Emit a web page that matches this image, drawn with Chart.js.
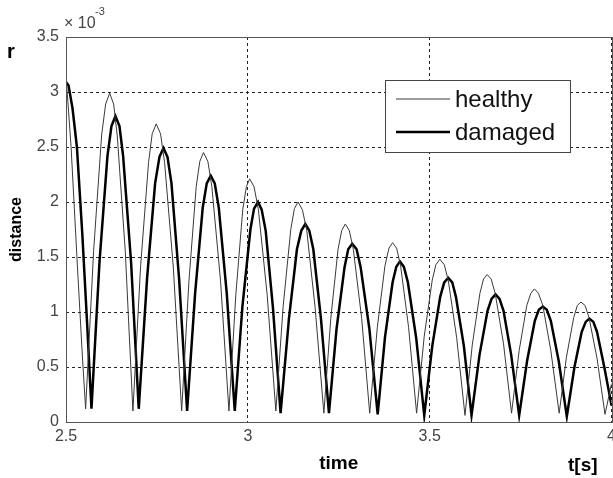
<!DOCTYPE html>
<html>
<head>
<meta charset="utf-8">
<script src="https://cdn.jsdelivr.net/npm/chart.js@4.4.1/dist/chart.umd.min.js"></script>
<style>
  html, body { margin: 0; padding: 0; background: #fff; overflow: hidden; }
  #wrap { width: 621px; height: 478px; position: relative; }
</style>
</head>
<body>
<div id="wrap"><canvas id="chart"></canvas></div>
<script>
// values are in units of 10^-3 (axis multiplier shown top left)
const healthyTime = [2.500, 2.514, 2.530, 2.545, 2.554,
    2.576, 2.598, 2.609, 2.620, 2.631, 2.641, 2.663, 2.684,
    2.705, 2.727, 2.737, 2.748, 2.760, 2.771, 2.795, 2.818,
    2.838, 2.858, 2.868, 2.878, 2.890, 2.901, 2.925, 2.948,
    2.967, 2.986, 2.996, 3.005, 3.017, 3.029, 3.053, 3.077,
    3.097, 3.118, 3.128, 3.138, 3.150, 3.162, 3.185, 3.209,
    3.228, 3.248, 3.258, 3.268, 3.279, 3.290, 3.313, 3.335,
    3.356, 3.377, 3.388, 3.398, 3.409, 3.420, 3.442, 3.464,
    3.485, 3.507, 3.517, 3.528, 3.540, 3.551, 3.574, 3.597,
    3.617, 3.638, 3.648, 3.658, 3.669, 3.680, 3.703, 3.725,
    3.746, 3.767, 3.778, 3.788, 3.799, 3.811, 3.833, 3.856,
    3.876, 3.896, 3.906, 3.916, 3.927, 3.938, 3.960, 3.982,
    4.000];
const healthyValue = [3.15, 2.50, 1.50, 0.60, 0.12,
    1.56, 2.61, 2.89, 2.99, 2.89, 2.60, 1.55, 0.10,
    1.41, 2.36, 2.62, 2.71, 2.62, 2.36, 1.41, 0.10,
    1.28, 2.14, 2.37, 2.45, 2.37, 2.14, 1.28, 0.10,
    1.16, 1.93, 2.14, 2.21, 2.14, 1.93, 1.16, 0.10,
    1.05, 1.75, 1.94, 2.00, 1.93, 1.74, 1.04, 0.08,
    0.94, 1.57, 1.74, 1.80, 1.74, 1.57, 0.94, 0.08,
    0.86, 1.42, 1.58, 1.63, 1.58, 1.42, 0.86, 0.08,
    0.78, 1.29, 1.43, 1.48, 1.43, 1.29, 0.77, 0.06,
    0.70, 1.17, 1.30, 1.34, 1.30, 1.17, 0.71, 0.08,
    0.65, 1.06, 1.17, 1.21, 1.17, 1.06, 0.65, 0.08,
    0.59, 0.95, 1.06, 1.09, 1.06, 0.95, 0.58, 0.07,
    0.35];

const damagedTime = [2.500, 2.507, 2.518, 2.530, 2.545, 2.558, 2.570,
    2.592, 2.614, 2.625, 2.636, 2.647, 2.657, 2.679, 2.700,
    2.723, 2.745, 2.757, 2.768, 2.779, 2.790, 2.811, 2.833,
    2.855, 2.876, 2.887, 2.898, 2.909, 2.920, 2.942, 2.964,
    2.985, 3.007, 3.017, 3.028, 3.038, 3.049, 3.069, 3.090,
    3.113, 3.135, 3.147, 3.158, 3.169, 3.180, 3.201, 3.223,
    3.244, 3.266, 3.276, 3.287, 3.299, 3.310, 3.334, 3.357,
    3.377, 3.398, 3.408, 3.418, 3.429, 3.440, 3.463, 3.485,
    3.507, 3.529, 3.540, 3.551, 3.562, 3.572, 3.594, 3.615,
    3.637, 3.659, 3.670, 3.681, 3.692, 3.703, 3.724, 3.746,
    3.768, 3.789, 3.800, 3.811, 3.822, 3.833, 3.855, 3.877,
    3.898, 3.918, 3.929, 3.939, 3.950, 3.960, 3.980, 4.000];
const damagedValue = [3.09, 3.06, 2.85, 2.50, 1.70, 0.90, 0.12,
    1.45, 2.42, 2.69, 2.78, 2.69, 2.42, 1.45, 0.12,
    1.31, 2.17, 2.41, 2.49, 2.41, 2.17, 1.30, 0.10,
    1.17, 1.95, 2.17, 2.24, 2.17, 1.95, 1.17, 0.10,
    1.05, 1.75, 1.94, 2.00, 1.93, 1.74, 1.04, 0.08,
    0.94, 1.57, 1.74, 1.80, 1.74, 1.57, 0.94, 0.08,
    0.85, 1.41, 1.57, 1.62, 1.57, 1.41, 0.85, 0.07,
    0.77, 1.27, 1.41, 1.46, 1.41, 1.27, 0.76, 0.06,
    0.69, 1.14, 1.27, 1.31, 1.27, 1.14, 0.69, 0.06,
    0.61, 1.01, 1.12, 1.16, 1.12, 1.01, 0.61, 0.06,
    0.56, 0.92, 1.02, 1.05, 1.02, 0.92, 0.55, 0.05,
    0.50, 0.82, 0.91, 0.94, 0.91, 0.82, 0.50, 0.15];

const seriesLabels = ['healthy', 'damaged'];
const xTicks = [2.5, 3, 3.5, 4];
const yTicks = [0, 0.5, 1, 1.5, 2, 2.5, 3, 3.5];

const FONT = "'Liberation Sans', Arial, sans-serif";

// extra text, frame and legend box drawn on top
const decorations = {
    id: 'decorations',
    afterDraw(chart) {
        const ctx = chart.ctx;
        const a = chart.chartArea;
        ctx.save();

        // axes frame
        ctx.strokeStyle = '#555';
        ctx.lineWidth = 1;
        ctx.strokeRect(Math.round(a.left) + 0.5, Math.round(a.top) + 0.5,
            Math.round(a.right - a.left), Math.round(a.bottom - a.top));

        // multiplier
        ctx.fillStyle = '#444';
        ctx.textBaseline = 'alphabetic';
        ctx.textAlign = 'left';
        ctx.font = '16px ' + FONT;
        ctx.fillText('\u00d7 10', 64, 28);
        ctx.font = '11px ' + FONT;
        ctx.fillText('-3', 95, 15);

        // stray labels
        ctx.fillStyle = '#000';
        ctx.font = 'bold 20px ' + FONT;
        ctx.fillText('r', 7, 58);
        ctx.font = 'bold 19px ' + FONT;
        ctx.fillText('t[s]', 568, 471);

        // legend
        const bx = 385.5, by = 80.5, bw = 185, bh = 72;
        ctx.fillStyle = '#fff';
        ctx.fillRect(bx, by, bw, bh);
        ctx.strokeStyle = '#444';
        ctx.lineWidth = 1;
        ctx.strokeRect(bx, by, bw, bh);
        const rows = [99, 132];
        chart.data.datasets.forEach((ds, i) => {
            ctx.strokeStyle = ds.borderColor;
            ctx.lineWidth = ds.borderWidth;
            ctx.beginPath();
            ctx.moveTo(396, rows[i]);
            ctx.lineTo(450, rows[i]);
            ctx.stroke();
            ctx.fillStyle = '#111';
            ctx.font = '24px ' + FONT;
            ctx.textBaseline = 'middle';
            ctx.fillText(ds.label, 455, rows[i] + 1);
        });
        ctx.restore();
    }
};

new Chart(document.getElementById('chart'), {
    type: 'scatter',
    data: {
        datasets: [{
            label: seriesLabels[0],
            data: healthyTime.map((t, i) => ({ x: t, y: healthyValue[i] })),
            showLine: true,
            borderColor: '#3a3a3a',
            borderWidth: 1,
            pointRadius: 0,
            tension: 0
        }, {
            label: seriesLabels[1],
            data: damagedTime.map((t, i) => ({ x: t, y: damagedValue[i] })),
            showLine: true,
            borderColor: '#000',
            borderWidth: 2.5,
            pointRadius: 0,
            tension: 0
        }]
    },
    options: {
        responsive: true,
        maintainAspectRatio: false,
        animation: false,
        layout: { padding: { top: 37, left: 0, right: 0, bottom: 0 } },
        plugins: {
            legend: { display: false },
            tooltip: { enabled: false }
        },
        scales: {
            x: {
                type: 'linear',
                min: 2.5,
                max: 4,
                afterBuildTicks: scale => { scale.ticks = xTicks.map(v => ({ value: v })); },
                afterFit: scale => { scale.height = 56; },
                ticks: {
                    color: '#444',
                    padding: 5,
                    maxRotation: 0,
                    callback: v => String(v),
                    font: { family: FONT, size: 16 }
                },
                grid: { color: '#222', lineWidth: 1, drawTicks: false },
                border: { display: false, dash: [3, 3] },
                title: {
                    display: true,
                    text: 'time',
                    color: '#000',
                    font: { family: FONT, size: 19, weight: 'bold' },
                    padding: { top: 0, bottom: 3 }
                }
            },
            y: {
                type: 'linear',
                min: 0,
                max: 3.5,
                afterBuildTicks: scale => { scale.ticks = yTicks.map(v => ({ value: v })); },
                afterFit: scale => { scale.width = 66; },
                ticks: {
                    color: '#444',
                    padding: 7,
                    callback: v => String(v),
                    font: { family: FONT, size: 16 }
                },
                grid: { color: '#222', lineWidth: 1, drawTicks: false },
                border: { display: false, dash: [3, 3] },
                title: {
                    display: true,
                    text: 'distance',
                    color: '#000',
                    font: { family: FONT, size: 16, weight: 'bold' },
                    padding: { top: 7, bottom: 0 }
                }
            }
        }
    },
    plugins: [decorations]
});
</script>
</body>
</html>
